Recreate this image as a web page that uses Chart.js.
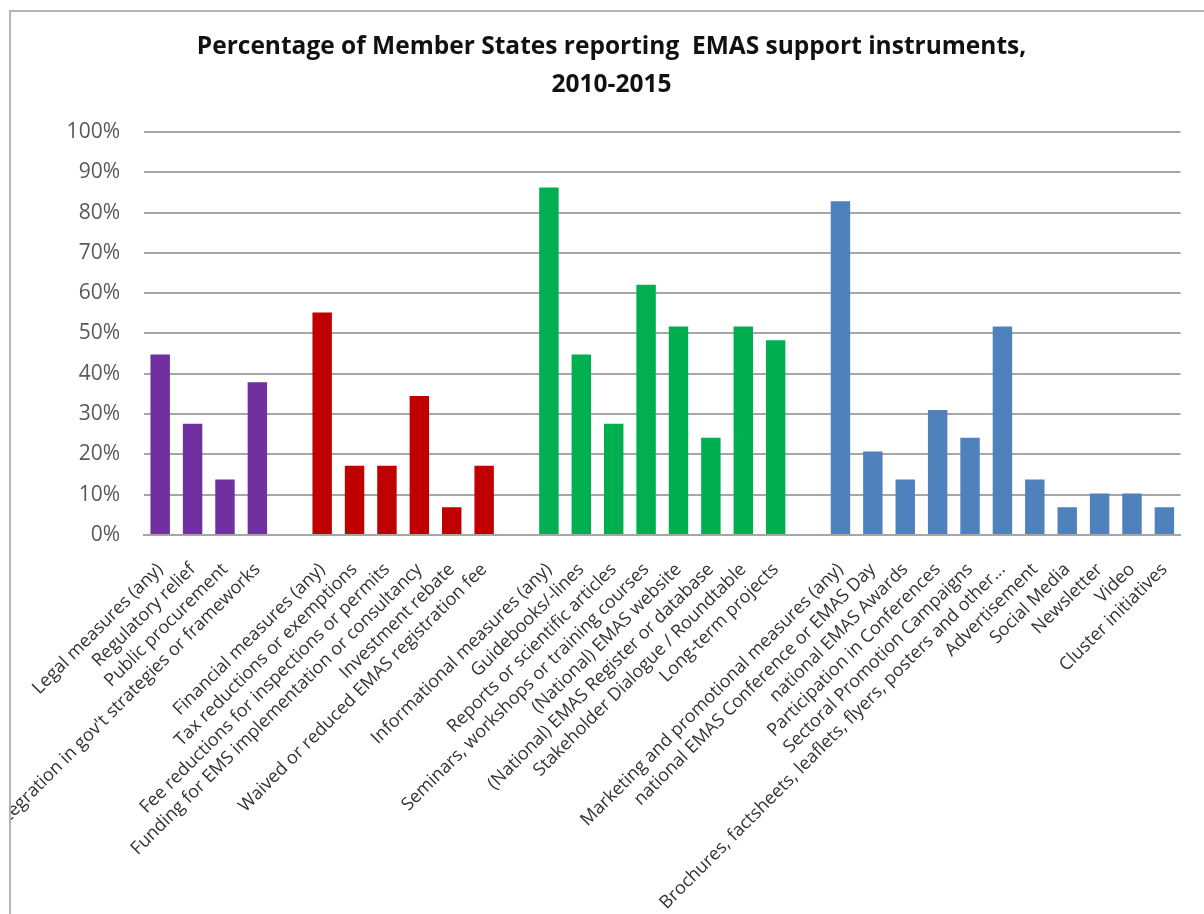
<!DOCTYPE html>
<html>
<head>
<meta charset="utf-8">
<script src="https://cdn.jsdelivr.net/npm/chart.js@4.4.1/dist/chart.umd.min.js"></script>
<style>
  html, body { margin: 0; padding: 0; background: #fff; }
  #wrap { position: relative; width: 1204px; height: 914px; overflow: hidden; }
  #chart { position: absolute; left: 0; top: 0; }
  #mask { position: absolute; left: 0; top: 0; width: 10px; height: 914px; background: #fff; }
  #frame { position: absolute; left: 9px; top: 10px; width: 1300px; height: 1000px;
           border-top: 2px solid #b4b4b4; border-left: 2px solid #b4b4b4; }
</style>
</head>
<body>
<div id="wrap">
  <canvas id="chart" width="1204" height="914"></canvas>
  <div id="mask"></div>
  <div id="frame"></div>
</div>
<script>
// EMAS support instruments, share of Member States (%)

const legalLabels = [
  "Legal measures (any)",
  "Regulatory relief",
  "Public procurement",
  "Integration in gov't strategies or frameworks",
];
const legalValues = [44.8, 27.6, 13.8, 37.9];

const financialLabels = [
  "Financial measures (any)",
  "Tax reductions or exemptions",
  "Fee reductions for inspections or permits",
  "Funding for EMS implementation or consultancy",
  "Investment rebate",
  "Waived or reduced EMAS registration fee",
];
const financialValues = [55.2, 17.2, 17.2, 34.5, 6.9, 17.2];

const infoLabels = [
  "Informational measures (any)",
  "Guidebooks/-lines",
  "Reports or scientific articles",
  "Seminars, workshops or training courses",
  "(National) EMAS website",
  "(National) EMAS Register or database",
  "Stakeholder Dialogue / Roundtable",
  "Long-term projects",
];
const infoValues = [86.2, 44.8, 27.6, 62.1, 51.7, 24.1, 51.7, 48.3];

const marketingLabels = [
  "Marketing and promotional measures (any)",
  "national EMAS Conference or EMAS Day",
  "national EMAS Awards",
  "Participation in Conferences",
  "Sectoral Promotion Campaigns",
  "Brochures, factsheets, leaflets, flyers, posters and other...",
  "Advertisement",
  "Social Media",
  "Newsletter",
  "Video",
  "Cluster initiatives",
];
const marketingValues = [82.8, 20.7, 13.8, 31.0, 24.1, 51.7, 13.8, 6.9, 10.3, 10.3, 6.9];

const groupColors = ["#7030A0", "#C00000", "#00B050", "#4F81BD"];

// Build one category axis with an empty slot between groups
const groups = [
  { labels: legalLabels, values: legalValues },
  { labels: financialLabels, values: financialValues },
  { labels: infoLabels, values: infoValues },
  { labels: marketingLabels, values: marketingValues },
];

const labels = [];
const values = [];
const colors = [];
groups.forEach((g, gi) => {
  if (gi > 0) {
    labels.push("");
    values.push(null);
    colors.push("transparent");
  }
  g.labels.forEach((l, i) => {
    labels.push(l);
    values.push(g.values[i]);
    colors.push(groupColors[gi]);
  });
});

const ctx = document.getElementById("chart").getContext("2d");

new Chart(ctx, {
  type: "bar",
  data: {
    labels: labels,
    datasets: [
      {
        data: values,
        backgroundColor: colors,
        borderWidth: 0,
        categoryPercentage: 1,
        barPercentage: 0.6,
      },
    ],
  },
  options: {
    responsive: false,
    animation: false,
    layout: {
      padding: { left: 40, right: 21, top: 0, bottom: 0 },
    },
    plugins: {
      legend: { display: false },
      tooltip: { enabled: false },
      title: {
        display: true,
        text: [
          "Percentage of Member States reporting  EMAS support instruments,",
          "2010-2015",
        ],
        color: "#111",
        font: { family: "Open Sans", size: 24.5, weight: "bold", lineHeight: 1.55 },
        padding: { top: 28, bottom: 28 },
      },
    },
    scales: {
      x: {
        afterFit: (scale) => {
          scale.height = 379;
        },
        grid: { display: false, drawTicks: false },
        border: { display: true, color: "#a6a6a6", width: 2 },
        ticks: {
          autoSkip: false,
          minRotation: 45,
          maxRotation: 45,
          padding: 24,
          color: "#333",
          font: { family: "Open Sans", size: 18 },
        },
      },
      y: {
        min: 0,
        max: 100,
        afterFit: (scale) => {
          scale.width = 104;
        },
        grid: { color: "#a6a6a6", lineWidth: 2, drawTicks: false },
        border: { display: false },
        ticks: {
          stepSize: 10,
          padding: 24,
          color: "#595959",
          font: { family: "Open Sans", size: 21 },
          callback: (v) => v + "%",
        },
      },
    },
  },
});
</script>
</body>
</html>
